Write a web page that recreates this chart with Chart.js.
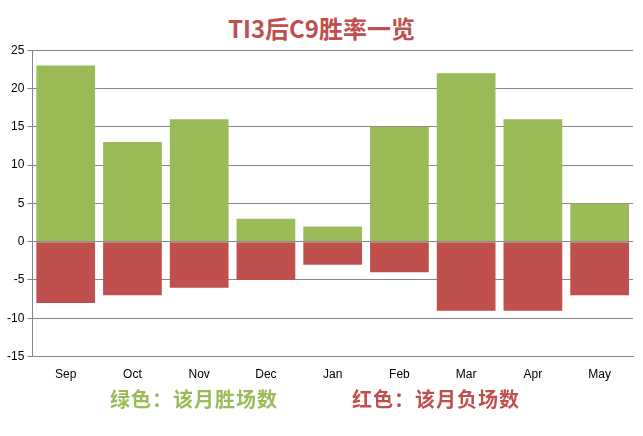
<!DOCTYPE html>
<html>
<head>
<meta charset="utf-8">
<script src="https://cdn.jsdelivr.net/npm/chart.js@4"></script>
<style>
  body { margin: 0; background: #fff; }
  #wrap { position: relative; width: 643px; height: 436px; }
  #title { position: absolute; top: 10px; width: 643px; text-align: center; font: bold 24px "Noto Sans CJK SC"; color: #c0504d; }
  .note { position: absolute; top: 384px; font: bold 20px "Noto Sans CJK SC"; letter-spacing: 1px; }
</style>
</head>
<body>
<div id="wrap">
  <div id="title">TI3后C9胜率一览</div>
  <div style="position:absolute;left:0;top:40px;width:643px;height:345px;"><canvas id="c"></canvas></div>
  <div class="note" style="left:110px;color:#9bbb59;">绿色：该月胜场数</div>
  <div class="note" style="left:352px;color:#c0504d;">红色：该月负场数</div>
</div>
<script>
const months = ["Sep", "Oct", "Nov", "Dec", "Jan", "Feb", "Mar", "Apr", "May"];
const wins = [23, 13, 16, 3, 2, 15, 22, 16, 5];
const losses = [-8, -7, -6, -5, -3, -4, -9, -9, -7];

new Chart(document.getElementById("c"), {
  type: 'bar',
  data: {
    labels: months,
    datasets: [
      { data: wins, backgroundColor: "#9bbb59", barPercentage: 0.88, categoryPercentage: 1 },
      { data: losses, backgroundColor: "#c0504d", barPercentage: 0.88, categoryPercentage: 1 }
    ]
  },
  options: {
    responsive: true,
    maintainAspectRatio: false,
    animation: false,
    layout: { padding: { left: 4, right: 10, top: 8, bottom: 0 } },
    plugins: { legend: { display: false }, tooltip: { enabled: false } },
    scales: {
      x: {
        stacked: true,
        grid: { display: false },
        border: { color: "#868686" },
        ticks: { color: "#000", font: { family: "Liberation Sans", size: 12 } }
      },
      y: {
        stacked: true,
        min: -15, max: 25,
        ticks: { stepSize: 5, color: "#000", font: { family: "Liberation Sans", size: 12 } },
        grid: { color: "#868686", tickLength: 5 },
        border: { color: "#868686" }
      }
    }
  }
});
</script>
</body>
</html>
